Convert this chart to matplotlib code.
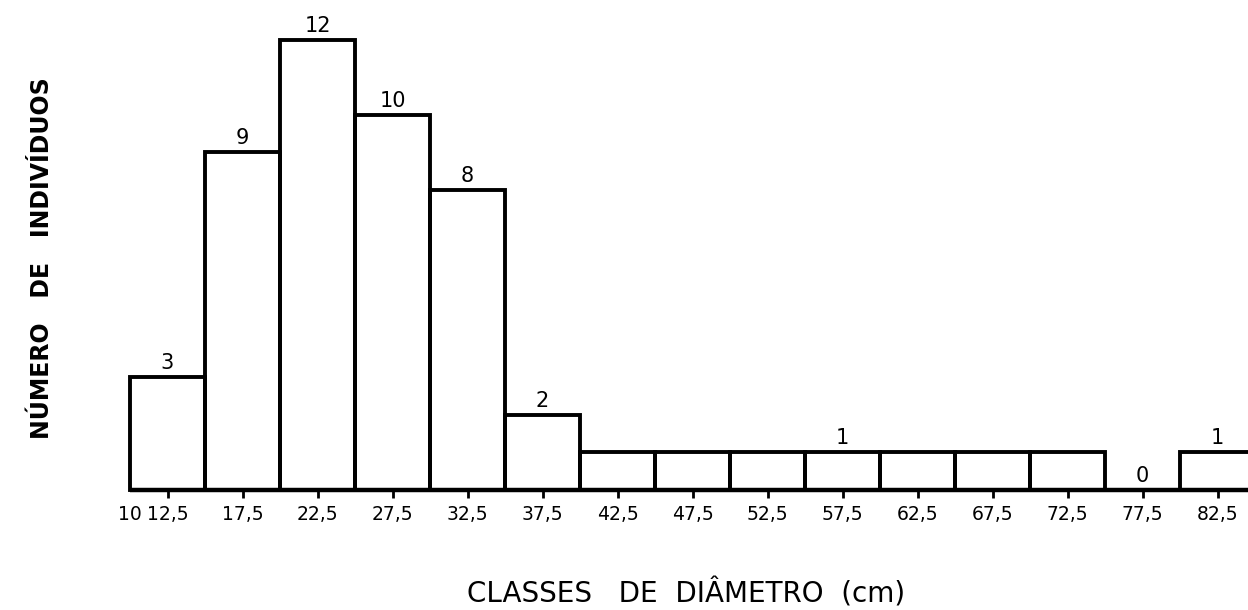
import matplotlib
matplotlib.use("Agg")
import matplotlib.pyplot as plt

# diameter classes (left edge, cm) and number of individuals per class
class_left = [10, 15, 20, 25, 30, 35, 40, 45, 50, 55, 60, 65, 70, 75, 80]
counts = [3, 9, 12, 10, 8, 2, 1, 1, 1, 1, 1, 1, 1, 0, 1]
# which bars carry a count label (the run of 1s is labelled once)
show_count = [True, True, True, True, True, True,
              False, False, False, True, False, False, False,
              True, True]

tick_pos = [10, 12.5, 17.5, 22.5, 27.5, 32.5, 37.5, 42.5, 47.5,
            52.5, 57.5, 62.5, 67.5, 72.5, 77.5, 82.5]
tick_labels = ["10", "12,5", "17,5", "22,5", "27,5", "32,5", "37,5", "42,5",
               "47,5", "52,5", "57,5", "62,5", "67,5", "72,5", "77,5", "82,5"]

class_width = 5

plt.rcParams['font.family'] = ['DejaVu Sans']

fig = plt.figure(figsize=(12.48, 6.10), dpi=100)
ax = fig.add_axes([130 / 1248, 1 - 490 / 610, 1 - 130 / 1248, 480 / 610])

ax.bar(class_left, counts, width=class_width, align='edge',
       fill=False, edgecolor='black', linewidth=2.8, clip_on=False)

# baseline
ax.plot([class_left[0], class_left[-1] + class_width], [0, 0],
        color='black', linewidth=3.2, clip_on=False, solid_capstyle='butt')

# count labels above the bars
for left, n, show in zip(class_left, counts, show_count):
    if not show:
        continue
    ax.annotate(str(n), (left + class_width / 2, n), xytext=(0, 3),
                textcoords='offset points', ha='center', va='bottom',
                fontsize=15)

ax.set_xlim(10, 10 + 1118 / 15)
ax.set_ylim(0, 12 + 30 / 37.6)

ax.set_xticks(tick_pos)
ax.set_xticklabels(tick_labels, fontsize=13.5)
ax.tick_params(axis='x', direction='out', length=6, width=2, pad=5)
ax.xaxis.get_major_ticks()[0].tick1line.set_visible(False)
ax.set_yticks([])
for side in ['top', 'right', 'left', 'bottom']:
    ax.spines[side].set_visible(False)

fig.text(686 / 1248, 1 - 593 / 610, "CLASSES   DE  DIÂMETRO  (cm)",
         ha='center', va='center', fontsize=20)
fig.text(42 / 1248, 1 - 258 / 610, "NÚMERO   DE   INDIVÍDUOS",
         ha='center', va='center', rotation=90, fontsize=17,
         fontweight='bold')

fig.savefig("out.png", dpi=100, facecolor='white')
